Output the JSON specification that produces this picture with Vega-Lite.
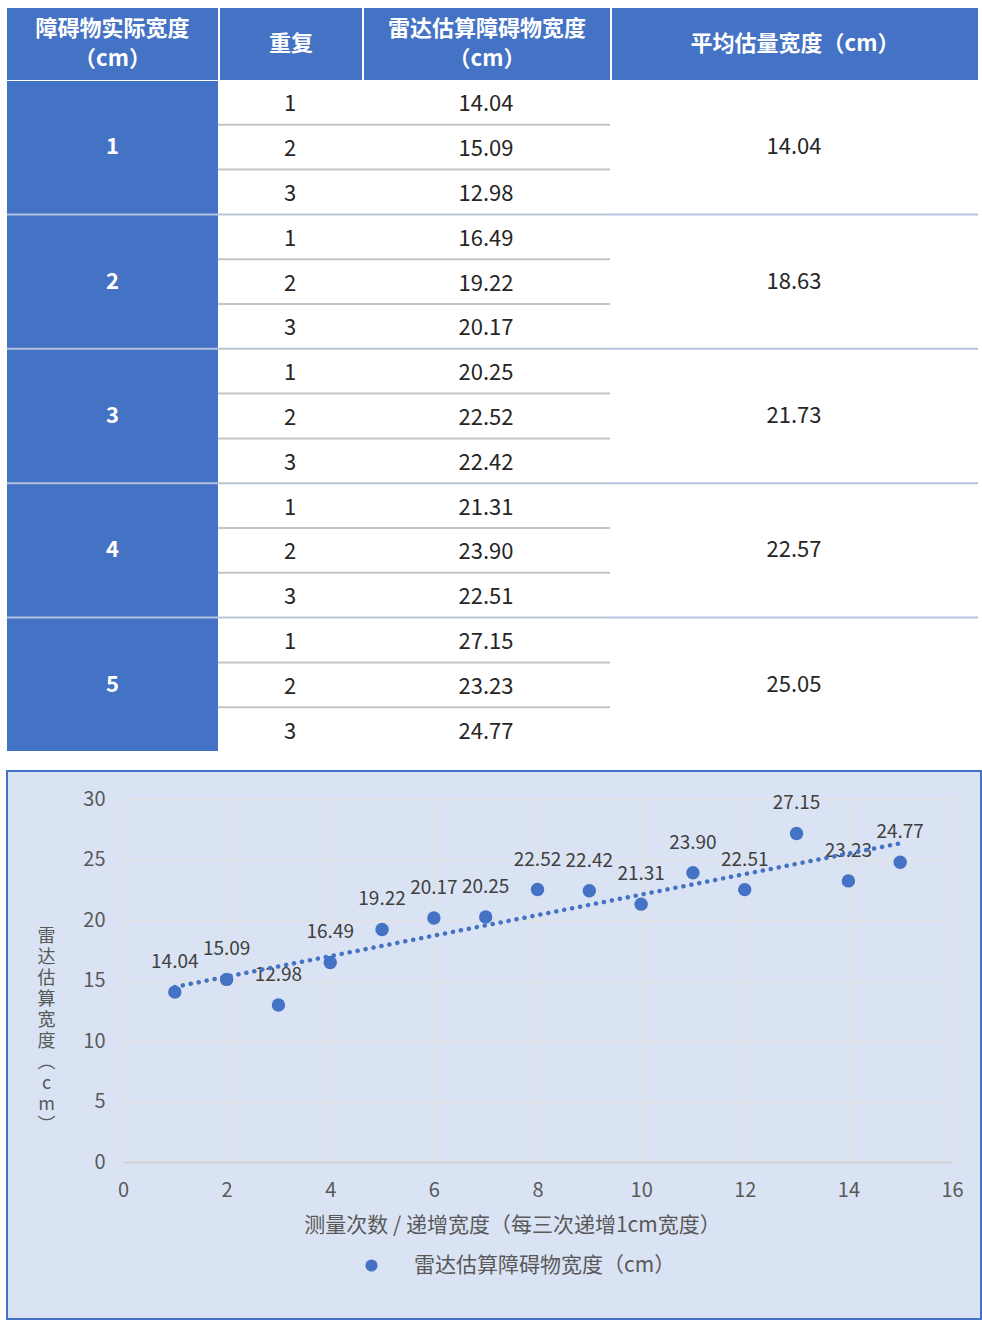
{
  "$schema": "https://vega.github.io/schema/vega-lite/v6.json",
  "padding": {"left": 6, "top": 8, "right": 0, "bottom": 0},
  "background": "white",
  "config": {
    "view": {"stroke": null},
    "font": "Noto Sans CJK SC",
    "text": {"font": "Noto Sans CJK SC"}
  },
  "datasets": {
    "rows": [
      {"n": 1, "width": 1, "rep": 1, "est": 14.04, "avg": 14.04},
      {"n": 2, "width": 1, "rep": 2, "est": 15.09, "avg": 14.04},
      {"n": 3, "width": 1, "rep": 3, "est": 12.98, "avg": 14.04},
      {"n": 4, "width": 2, "rep": 1, "est": 16.49, "avg": 18.63},
      {"n": 5, "width": 2, "rep": 2, "est": 19.22, "avg": 18.63},
      {"n": 6, "width": 2, "rep": 3, "est": 20.17, "avg": 18.63},
      {"n": 7, "width": 3, "rep": 1, "est": 20.25, "avg": 21.73},
      {"n": 8, "width": 3, "rep": 2, "est": 22.52, "avg": 21.73},
      {"n": 9, "width": 3, "rep": 3, "est": 22.42, "avg": 21.73},
      {"n": 10, "width": 4, "rep": 1, "est": 21.31, "avg": 22.57},
      {"n": 11, "width": 4, "rep": 2, "est": 23.90, "avg": 22.57},
      {"n": 12, "width": 4, "rep": 3, "est": 22.51, "avg": 22.57},
      {"n": 13, "width": 5, "rep": 1, "est": 27.15, "avg": 25.05},
      {"n": 14, "width": 5, "rep": 2, "est": 23.23, "avg": 25.05},
      {"n": 15, "width": 5, "rep": 3, "est": 24.77, "avg": 25.05}
    ],
    "heads": [
      {"col": 1, "label": "障碍物实际宽度\n（cm）"},
      {"col": 2, "label": "重复"},
      {"col": 3, "label": "雷达估算障碍物宽度\n（cm）"},
      {"col": 4, "label": "平均估量宽度（cm）"}
    ]
  },
  "spacing": 19,
  "vconcat": [
    {
      "spacing": 1,
      "vconcat": [
        {
          "spacing": 2,
          "hconcat": [
            {
              "width": 211, "height": 72,
              "view": {"fill": "#4472C4"},
              "data": {"name": "heads"},
              "transform": [{"filter": "datum.col == 1"}],
              "mark": {"type": "text", "lineBreak": "\n", "lineHeight": 30, "dy": -15, "color": "white", "fontWeight": "bold", "fontSize": 22},
              "encoding": {"text": {"field": "label"}}
            },
            {
              "width": 142, "height": 72,
              "view": {"fill": "#4472C4"},
              "data": {"name": "heads"},
              "transform": [{"filter": "datum.col == 2"}],
              "mark": {"type": "text", "color": "white", "fontWeight": "bold", "fontSize": 22},
              "encoding": {"text": {"field": "label"}}
            },
            {
              "width": 246, "height": 72,
              "view": {"fill": "#4472C4"},
              "data": {"name": "heads"},
              "transform": [{"filter": "datum.col == 3"}],
              "mark": {"type": "text", "lineBreak": "\n", "lineHeight": 30, "dy": -15, "color": "white", "fontWeight": "bold", "fontSize": 22},
              "encoding": {"text": {"field": "label"}}
            },
            {
              "width": 366, "height": 72,
              "view": {"fill": "#4472C4"},
              "data": {"name": "heads"},
              "transform": [{"filter": "datum.col == 4"}],
              "mark": {"type": "text", "color": "white", "fontWeight": "bold", "fontSize": 22},
              "encoding": {"text": {"field": "label"}}
            }
          ]
        },
        {
          "spacing": 0,
          "hconcat": [
            {
              "width": 211, "height": 670,
              "view": {"fill": "#B4C4E0"},
              "data": {"name": "rows"},
              "transform": [{"aggregate": [{"op": "count", "as": "k"}], "groupby": ["width"]}],
              "encoding": {
                "y": {"field": "width", "type": "ordinal", "axis": null, "scale": {"paddingInner": 0.015, "paddingOuter": 0}}
              },
              "layer": [
                {"mark": {"type": "rect", "color": "#4472C4"}},
                {
                  "mark": {"type": "text", "color": "white", "fontWeight": "bold", "fontSize": 22},
                  "encoding": {"text": {"field": "width"}}
                }
              ]
            },
            {
              "width": 144, "height": 670,
              "view": {"fill": "#B4C4E0"},
              "data": {"name": "rows"},
              "encoding": {
                "y": {"field": "width", "type": "ordinal", "axis": null, "scale": {"paddingInner": 0.015, "paddingOuter": 0}}
              },
              "layer": [
                {"mark": {"type": "rect", "color": "#C4C4C4"}},
                {
                  "mark": {"type": "rect", "color": "white"},
                  "encoding": {"yOffset": {"field": "rep", "type": "ordinal", "scale": {"paddingInner": 0.045, "paddingOuter": 0}}}
                },
                {
                  "mark": {"type": "text", "color": "#262626", "fontSize": 22, "dy": 2},
                  "encoding": {
                    "yOffset": {"field": "rep", "type": "ordinal", "scale": {"paddingInner": 0.045, "paddingOuter": 0}},
                    "text": {"field": "rep"}
                  }
                }
              ]
            },
            {
              "width": 248, "height": 670,
              "view": {"fill": "#B4C4E0"},
              "data": {"name": "rows"},
              "encoding": {
                "y": {"field": "width", "type": "ordinal", "axis": null, "scale": {"paddingInner": 0.015, "paddingOuter": 0}}
              },
              "layer": [
                {"mark": {"type": "rect", "color": "#C4C4C4"}},
                {
                  "mark": {"type": "rect", "color": "white"},
                  "encoding": {"yOffset": {"field": "rep", "type": "ordinal", "scale": {"paddingInner": 0.045, "paddingOuter": 0}}}
                },
                {
                  "mark": {"type": "text", "color": "#262626", "fontSize": 22, "dy": 2},
                  "encoding": {
                    "yOffset": {"field": "rep", "type": "ordinal", "scale": {"paddingInner": 0.045, "paddingOuter": 0}},
                    "text": {"field": "est", "type": "quantitative", "format": ".2f"}
                  }
                }
              ]
            },
            {
              "width": 368, "height": 670,
              "view": {"fill": "#B4C4E0"},
              "data": {"name": "rows"},
              "transform": [{"aggregate": [{"op": "count", "as": "k"}], "groupby": ["width", "avg"]}],
              "encoding": {
                "y": {"field": "width", "type": "ordinal", "axis": null, "scale": {"paddingInner": 0.015, "paddingOuter": 0}}
              },
              "layer": [
                {"mark": {"type": "rect", "color": "white"}},
                {
                  "mark": {"type": "text", "color": "#262626", "fontSize": 22},
                  "encoding": {"text": {"field": "avg", "type": "quantitative", "format": ".2f"}}
                }
              ]
            }
          ]
        }
      ]
    },
    {
      "width": 974,
      "height": 548,
      "view": {"fill": "#DAE3F3", "stroke": "#4472C4", "strokeWidth": 2},
      "data": {"name": "rows"},
      "encoding": {
        "x": {
          "field": "n", "type": "quantitative",
          "scale": {"domain": [0, 16], "range": [116, 945], "nice": false, "zero": false},
          "axis": {
            "orient": "top", "offset": -391,
            "values": [0, 2, 4, 6, 8, 10, 12, 14, 16],
            "grid": true, "gridColor": "#E1E1E1", "gridWidth": 1.5,
            "domainColor": "#D0D0D0", "domainWidth": 2,
            "ticks": false, "labelFlush": false,
            "labelPadding": -28, "labelBaseline": "middle",
            "labelFontSize": 20, "labelColor": "#595959",
            "title": "测量次数 / 递增宽度（每三次递增1cm宽度）",
            "titleX": 505, "titleY": 63, "titleAlign": "center", "titleBaseline": "middle",
            "titleFontSize": 21, "titleFontWeight": "normal", "titleColor": "#595959"
          }
        },
        "y": {
          "field": "est", "type": "quantitative",
          "scale": {"domain": [0, 30], "range": [391, 28], "nice": false},
          "axis": {
            "offset": -116,
            "values": [0, 5, 10, 15, 20, 25, 30],
            "grid": true, "gridColor": "#E1E1E1", "gridWidth": 1.5,
            "domain": false, "ticks": false, "labelFlush": false,
            "labelPadding": 18, "labelFontSize": 20, "labelColor": "#595959",
            "title": ["雷", "达", "估", "算", "宽", "度", "︵", "c", "m", "︶"],
            "titleAngle": 0, "titleX": -77, "titleY": 165,
            "titleAlign": "center", "titleBaseline": "middle", "titleLineHeight": 21,
            "titleFontSize": 18, "titleFontWeight": "normal", "titleColor": "#595959"
          }
        }
      },
      "layer": [
        {
          "mark": {"type": "point", "shape": "circle", "filled": true, "size": 180, "opacity": 1},
          "encoding": {
            "color": {
              "datum": "雷达估算障碍物宽度（cm）", "type": "nominal",
              "scale": {"range": ["#4472C4"]},
              "legend": {
                "orient": "none", "legendX": 354, "legendY": 1247, "title": null, "padding": 0,
                "symbolType": "circle", "symbolSize": 150, "labelOffset": 32, "labelLimit": 400,
                "labelFontSize": 21, "labelColor": "#595959"
              }
            }
          }
        },
        {
          "mark": {"type": "text", "dy": -30, "fontSize": 19, "color": "#404040"},
          "encoding": {"text": {"field": "est", "type": "quantitative", "format": ".2f"}}
        },
        {
          "transform": [{"regression": "est", "on": "n"}],
          "mark": {"type": "line", "color": "#4472C4", "strokeWidth": 4.5, "strokeDash": [0.1, 8], "strokeCap": "round"}
        }
      ]
    }
  ]
}
